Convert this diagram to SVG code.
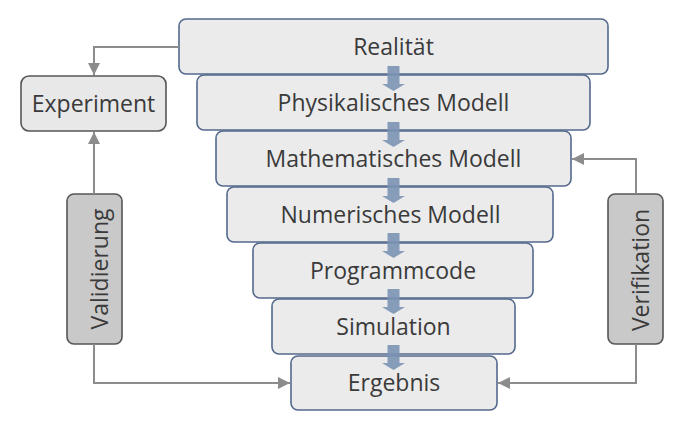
<svg xmlns="http://www.w3.org/2000/svg" width="700" height="421" viewBox="0 0 700 421">
<style>
.fb{fill:#ebebec;stroke:#54698c;stroke-width:1.6}
.sb{fill:#e8e8e8;stroke:#555;stroke-width:1.6}
.vb{fill:#c9c9c9;stroke:#555;stroke-width:1.6}
.t{font-family:"Open Sans","DejaVu Sans",sans-serif;font-size:23px;fill:#3a3a3a;text-anchor:middle}
.c{fill:none;stroke:#8c8c8c;stroke-width:2}
.ba{fill:#7b93b3;opacity:0.9}
</style>
<defs>
<marker id="ah" viewBox="0 0 10 10" refX="10" refY="5" markerWidth="6.5" markerHeight="6" markerUnits="strokeWidth" orient="auto">
<path d="M0,0 L10,5 L0,10 Z" fill="#8c8c8c"/>
</marker>
<path id="blk" d="M-6,0 H6 V18 H11.5 L0,25 L-11.5,18 H-6 Z"/>
</defs>
<rect width="700" height="421" fill="#fff"/>
<g id="realitaet"><rect class="fb" x="179" y="19" width="429" height="55" rx="7"/><text class="t" x="393.5" y="55">Realität</text></g>
<g id="physik"><rect class="fb" x="197" y="75" width="393" height="55" rx="7"/><text class="t" x="393.5" y="111">Physikalisches Modell</text></g>
<g id="mathe"><rect class="fb" x="216" y="131" width="355" height="55" rx="7"/><text class="t" x="393.5" y="167">Mathematisches Modell</text></g>
<g id="numerik"><rect class="fb" x="227" y="187" width="326" height="55" rx="7"/><text class="t" x="390.5" y="223">Numerisches Modell</text></g>
<g id="programm"><rect class="fb" x="253" y="243" width="280" height="55" rx="7"/><text class="t" x="393" y="279">Programmcode</text></g>
<g id="simulation"><rect class="fb" x="272" y="299" width="243" height="55" rx="7"/><text class="t" x="393.5" y="335">Simulation</text></g>
<g id="ergebnis"><rect class="fb" x="291" y="356" width="206" height="54" rx="7"/><text class="t" x="394" y="391">Ergebnis</text></g>
<g id="experiment"><rect class="sb" x="21" y="76" width="145" height="55" rx="8"/><text class="t" x="93.5" y="112">Experiment</text></g>
<g id="validierung"><rect class="vb" x="67" y="194" width="55" height="150" rx="7"/><text class="t" transform="translate(107.5,269) rotate(-90)">Validierung</text></g>
<g id="verifikation"><rect class="vb" x="608" y="194" width="55" height="150" rx="7"/><text class="t" transform="translate(648.5,270) rotate(-90)">Verifikation</text></g>
<g id="connectors">
<use href="#blk" class="ba" x="393.5" y="66"/>
<use href="#blk" class="ba" x="393.5" y="122"/>
<use href="#blk" class="ba" x="393.5" y="178"/>
<use href="#blk" class="ba" x="393.5" y="233"/>
<use href="#blk" class="ba" x="393.5" y="289"/>
<use href="#blk" class="ba" x="393.5" y="345"/>
<path class="c" d="M179,47 H94 V75" marker-end="url(#ah)"/>
<path class="c" d="M94,194 V132" marker-end="url(#ah)"/>
<path class="c" d="M94,344 V383 H290" marker-end="url(#ah)"/>
<path class="c" d="M636,194 V159 H572" marker-end="url(#ah)"/>
<path class="c" d="M636,344 V383 H498" marker-end="url(#ah)"/>
</g>
</svg>
